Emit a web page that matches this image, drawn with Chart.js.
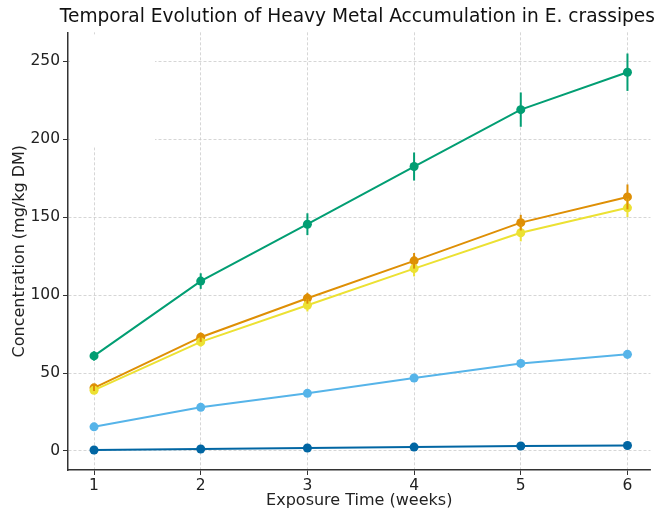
<!DOCTYPE html>
<html lang="en">
<head>
<meta charset="UTF-8">
<title>Heavy Metal Accumulation</title>
<script src="https://cdn.jsdelivr.net/npm/chart.js"></script>
<style>
  body { margin: 0; background: #fff; }
  #wrap { width: 655px; height: 510px; }
</style>
</head>
<body>
<div id="wrap"><canvas id="myCanvas" width="655" height="510"></canvas></div>
<script>
// exposure time (weeks)
const weeks = [1, 2, 3, 4, 5, 6];
const yTicks = [0, 50, 100, 150, 200, 250];

// mean concentrations (mg/kg DM), one series per metal
const serieVerde = [61, 109, 145.5, 182.5, 219, 243];
const serieLaranja = [40.5, 73, 98, 122, 146.5, 163];
const serieAmarela = [39, 70, 93.5, 117, 140, 156];
const serieAzulClaro = [15.5, 28, 37, 46.8, 56.2, 62];
const serieAzulEscuro = [0.6, 1.3, 1.9, 2.5, 3.2, 3.5];

// error bars (+/-)
const erroVerde = [3, 5, 7, 9, 11, 12];
const erroLaranja = [2, 3, 3.5, 5, 5, 8];
const erroAmarela = [2, 3, 4, 5, 5.5, 6];
const erroAzulClaro = [1, 1.3, 1.6, 2, 2.4, 2.8];
const erroAzulEscuro = [0.1, 0.2, 0.2, 0.3, 0.3, 0.4];

function pontos(valores) {
  return weeks.map((w, i) => ({ x: w, y: valores[i] }));
}

function serie(valores, erros, cor) {
  return {
    data: pontos(valores),
    erros: erros,
    borderColor: cor,
    backgroundColor: cor,
    borderWidth: 2,
    pointRadius: 4.5,
    pointHoverRadius: 4.5,
    pointBorderWidth: 0,
    tension: 0,
    fill: false
  };
}

const errorBars = {
  id: "errorBars",
  afterDatasetsDraw(chart) {
    const ctx = chart.ctx;
    const ys = chart.scales.y;
    chart.data.datasets.forEach((ds, d) => {
      const meta = chart.getDatasetMeta(d);
      ctx.save();
      ctx.strokeStyle = ds.borderColor;
      ctx.lineWidth = 2;
      meta.data.forEach((pt, i) => {
        const v = ds.data[i].y, e = ds.erros[i];
        ctx.beginPath();
        ctx.moveTo(pt.x, ys.getPixelForValue(v - e));
        ctx.lineTo(pt.x, ys.getPixelForValue(v + e));
        ctx.stroke();
      });
      ctx.restore();
    });
  }
};

// empty legend box that hides the grid in the top-left corner
const caixaLegenda = {
  id: "caixaLegenda",
  beforeDatasetsDraw(chart) {
    const a = chart.chartArea;
    const ctx = chart.ctx;
    ctx.save();
    ctx.fillStyle = "#ffffff";
    ctx.fillRect(a.left + 2, a.top + 2, 85, 113);
    ctx.restore();
  }
};

const fonte = "'DejaVu Sans', sans-serif";
const grade = {
  color: "#cccccc",
  lineWidth: 0.8,
  tickColor: "#333333",
  tickLength: 5,
  tickBorderDash: [],
  tickWidth: 1
};
const borda = { color: "#333333", width: 1.5, dash: [3, 2] };

const config = {
  type: "line",
  data: {
    datasets: [
      serie(serieAzulEscuro, erroAzulEscuro, "#0166A3"),
      serie(serieAmarela, erroAmarela, "#ECE133"),
      serie(serieLaranja, erroLaranja, "#DE8F05"),
      serie(serieVerde, erroVerde, "#029E73"),
      serie(serieAzulClaro, erroAzulClaro, "#56B4E9")
    ]
  },
  options: {
    responsive: false,
    animation: false,
    layout: { padding: 0 },
    plugins: {
      legend: { display: false },
      tooltip: { enabled: false },
      title: {
        display: true,
        align: "end",
        text: "Temporal Evolution of Heavy Metal Accumulation in E. crassipes",
        color: "#111111",
        font: { family: fonte, size: 18.6, weight: "normal" },
        padding: { top: 6, bottom: 4 }
      }
    },
    scales: {
      x: {
        type: "linear",
        min: 0.756,
        max: 6.216,
        afterBuildTicks(s) { s.ticks = weeks.map(v => ({ value: v })); },
        afterFit(s) { s.height = 40; },
        grid: grade,
        border: borda,
        ticks: { color: "#222222", font: { family: fonte, size: 15.5 }, padding: 2 },
        title: {
          display: true,
          text: "Exposure Time (weeks)",
          color: "#222222",
          font: { family: fonte, size: 16 },
          padding: { top: 0, bottom: 0 }
        }
      },
      y: {
        min: -12.2,
        max: 268.6,
        afterBuildTicks(s) { s.ticks = yTicks.map(v => ({ value: v })); },
        afterFit(s) { s.width = 68; },
        grid: grade,
        border: borda,
        ticks: { color: "#222222", font: { family: fonte, size: 15.5 }, padding: 3 },
        title: {
          display: true,
          text: "Concentration (mg/kg DM)",
          color: "#222222",
          font: { family: fonte, size: 16 },
          padding: { top: 10, bottom: 0 }
        }
      }
    }
  },
  plugins: [caixaLegenda, errorBars]
};

const myChart = new Chart(document.getElementById("myCanvas"), config);
</script>
</body>
</html>
